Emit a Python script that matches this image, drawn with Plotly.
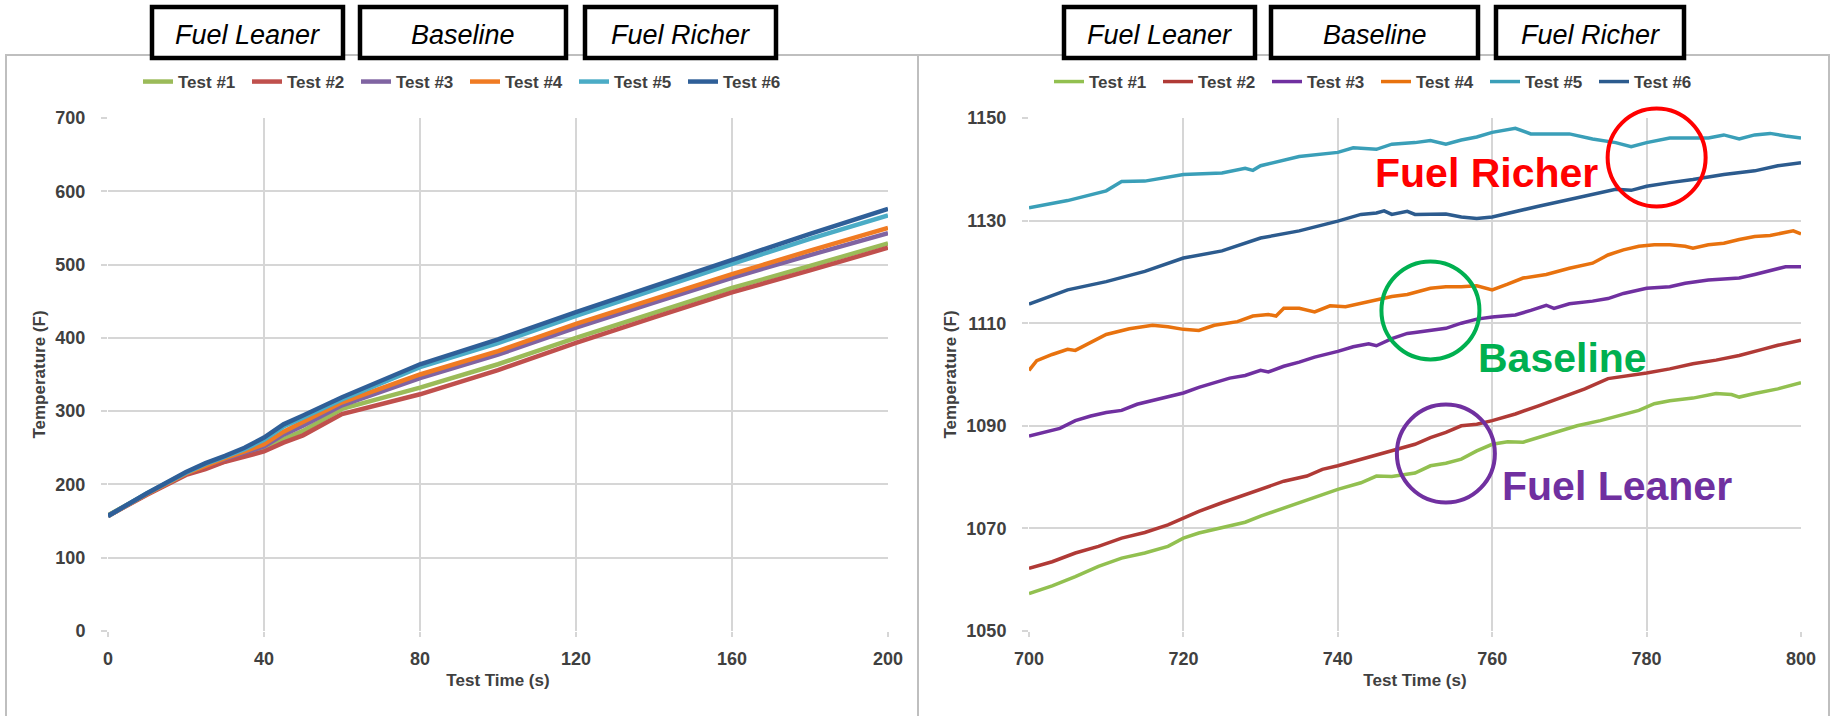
import plotly.graph_objects as go

W, H = 1835, 716

# ---------------- data: left chart (0-200 s) ----------------
t_left = [0, 10, 20, 25, 30, 35, 40, 45, 50, 60, 80, 100, 120, 140, 160, 180, 200]
left_test1 = [158, 187, 214, 223, 232, 240, 248, 262, 273, 303, 332, 364, 400, 434, 468, 498, 529]
left_test2 = [157, 186, 213, 221, 231, 238, 245, 257, 267, 296, 323, 356, 393, 428, 462, 492, 523]
left_test3 = [157, 187, 215, 226, 235, 243, 252, 268, 280, 308, 345, 377, 414, 448, 482, 513, 543]
left_test4 = [157, 187, 215, 226, 236, 245, 255, 272, 285, 312, 350, 382, 419, 453, 487, 519, 550]
left_test5 = [157, 188, 216, 228, 238, 248, 261, 279, 291, 316, 360, 393, 430, 466, 501, 535, 567]
left_test6 = [157, 188, 217, 229, 239, 250, 264, 282, 294, 319, 364, 398, 435, 471, 506, 542, 576]

# ---------------- data: right chart (700-800 s) ----------------
t_r1 = [700, 703, 706, 709, 712, 715, 718, 720, 722, 725, 728, 730, 733, 736, 738, 740, 743, 745, 747, 749, 750,
        752, 754, 756, 758, 760, 762, 764, 766, 768, 771, 774, 777, 779, 781, 783, 786, 789, 791, 792, 794, 797, 800]
v_r1 = [1057.3, 1058.8, 1060.6, 1062.6, 1064.2, 1065.2, 1066.5, 1068.1, 1069.1, 1070.1, 1071.2, 1072.4, 1074.0,
        1075.6, 1076.6, 1077.6, 1078.9, 1080.2, 1080.1, 1080.5, 1080.8, 1082.2, 1082.7, 1083.5, 1085.1, 1086.4,
        1086.9, 1086.8, 1087.7, 1088.7, 1090.0, 1091.0, 1092.3, 1093.0, 1094.3, 1094.9, 1095.4, 1096.3, 1096.1,
        1095.6, 1096.3, 1097.2, 1098.4]

t_r2 = [700, 703, 706, 709, 712, 715, 718, 720, 722, 725, 728, 730, 733, 736, 738, 740, 743, 745, 747, 750,
        752, 754, 756, 758, 760, 763, 766, 769, 772, 775, 778, 780, 783, 786, 789, 792, 795, 797, 800]
v_r2 = [1062.2, 1063.5, 1065.2, 1066.5, 1068.1, 1069.2, 1070.7, 1072.0, 1073.3, 1075.0, 1076.6, 1077.6, 1079.2,
        1080.2, 1081.5, 1082.2, 1083.5, 1084.2, 1085.1, 1086.4, 1087.7, 1088.7, 1090.0, 1090.3, 1091.0, 1092.3,
        1093.9, 1095.6, 1097.2, 1099.2, 1099.8, 1100.3, 1101.1, 1102.1, 1102.8, 1103.7, 1104.9, 1105.7, 1106.7]

t_r3 = [700, 702, 704, 706, 708, 710, 712, 714, 716, 718, 720, 722, 724, 726, 728, 730, 731, 733, 735, 737, 740,
        742, 744, 745, 747, 749, 750, 752, 754, 756, 758, 760, 763, 765, 767, 768, 770, 773, 775, 777, 780, 783,
        785, 788, 790, 792, 794, 796, 798, 800]
v_r3 = [1088.0, 1088.8, 1089.5, 1091.0, 1091.9, 1092.6, 1093.0, 1094.2, 1094.9, 1095.6, 1096.4, 1097.5, 1098.4,
        1099.3, 1099.8, 1100.8, 1100.5, 1101.6, 1102.4, 1103.4, 1104.5, 1105.4, 1106.0, 1105.6, 1107.0, 1108.0,
        1108.2, 1108.6, 1109.0, 1110.0, 1110.8, 1111.2, 1111.6, 1112.5, 1113.5, 1112.9, 1113.8, 1114.3, 1114.8,
        1115.8, 1116.8, 1117.1, 1117.8, 1118.4, 1118.6, 1118.8, 1119.5, 1120.2, 1121.0, 1121.0]

t_r4 = [700, 701, 703, 705, 706, 708, 710, 713, 716, 718, 720, 722, 724, 727, 729, 731, 732, 733, 735, 737, 739,
        741, 743, 745, 747, 749, 750, 752, 754, 756, 758, 760, 762, 764, 767, 770, 773, 775, 777, 779, 781, 783,
        785, 786, 788, 790, 792, 794, 796, 798, 799, 800]
v_r4 = [1100.8, 1102.7, 1103.9, 1104.9, 1104.7, 1106.3, 1107.8, 1108.9, 1109.6, 1109.3, 1108.8, 1108.6, 1109.6,
        1110.3, 1111.4, 1111.7, 1111.4, 1112.9, 1112.9, 1112.2, 1113.4, 1113.2, 1113.9, 1114.5, 1115.2, 1115.6,
        1116.0, 1116.8, 1117.1, 1117.1, 1117.3, 1116.5, 1117.6, 1118.8, 1119.5, 1120.7, 1121.7, 1123.3, 1124.3,
        1125.0, 1125.3, 1125.3, 1125.0, 1124.6, 1125.3, 1125.6, 1126.3, 1126.9, 1127.1, 1127.6, 1128.0, 1127.4]

t_r5 = [700, 705, 710, 712, 715, 720, 725, 728, 729, 730, 735, 740, 742, 745, 747, 750, 752, 754, 756, 758, 760,
        763, 765, 768, 770, 773, 776, 778, 780, 783, 786, 788, 790, 792, 794, 796, 798, 800]
v_r5 = [1132.5, 1133.9, 1135.8, 1137.6, 1137.7, 1139.0, 1139.3, 1140.2, 1139.8, 1140.7, 1142.5, 1143.3, 1144.2,
        1143.9, 1144.9, 1145.2, 1145.6, 1144.9, 1145.7, 1146.3, 1147.2, 1148.0, 1146.9, 1147.0, 1146.9, 1145.9,
        1145.2, 1144.4, 1145.2, 1146.1, 1146.2, 1146.1, 1146.7, 1145.9, 1146.7, 1147.0, 1146.5, 1146.1]

t_r6 = [700, 705, 710, 715, 720, 725, 730, 735, 740, 743, 745, 746, 747, 749, 750, 752, 754, 756, 758, 760, 763,
        766, 770, 773, 776, 778, 780, 783, 786, 790, 794, 797, 800]
v_r6 = [1113.7, 1116.5, 1118.1, 1120.1, 1122.7, 1124.1, 1126.6, 1128.0, 1129.9, 1131.2, 1131.5, 1131.9, 1131.2,
        1131.8, 1131.2, 1131.2, 1131.3, 1130.7, 1130.4, 1130.7, 1131.8, 1132.8, 1134.1, 1135.1, 1136.1, 1135.9,
        1136.7, 1137.4, 1138.0, 1139.0, 1139.7, 1140.7, 1141.3]

series_names = ["Test #1", "Test #2", "Test #3", "Test #4", "Test #5", "Test #6"]
box_labels = ["Fuel Leaner", "Baseline", "Fuel Richer"]
callout_labels = ["Fuel Richer", "Baseline", "Fuel Leaner"]

left_colors = ["#9BBB59", "#C0504D", "#8064A2", "#F07B23", "#4BACC6", "#2F5F98"]
right_colors = ["#92C050", "#B03A36", "#7030A0", "#E8720E", "#3A9FB8", "#2C5B8E"]

# ---------------- layout geometry (pixels) ----------------
def px(x):
    return x / W

def py(y):
    return 1 - y / H

L_X = (108, 888)
R_X = (1029, 1801)
P_Y = (118, 631)

fig = go.Figure()

left_vals = [left_test1, left_test2, left_test3, left_test4, left_test5, left_test6]
for name, vals, c in zip(series_names, left_vals, left_colors):
    fig.add_trace(go.Scatter(x=t_left, y=vals, name=name, mode="lines",
                             line=dict(color=c, width=4.5),
                             xaxis="x", yaxis="y", legend="legend"))

right_t = [t_r1, t_r2, t_r3, t_r4, t_r5, t_r6]
right_v = [v_r1, v_r2, v_r3, v_r4, v_r5, v_r6]
for name, tt, vv, c in zip(series_names, right_t, right_v, right_colors):
    fig.add_trace(go.Scatter(x=tt, y=vv, name=name, mode="lines",
                             line=dict(color=c, width=3.5),
                             xaxis="x2", yaxis="y2", legend="legend2"))

FONT = "Liberation Sans, Arial, sans-serif"
tick_font = dict(family=FONT, size=18, color="#404040", weight="bold")
title_font = dict(family=FONT, size=17, color="#404040", weight="bold")
GRID = "#D6D6D6"

def xaxis_common(rng, dtick):
    return dict(range=rng, dtick=dtick, tick0=rng[0], showgrid=True, gridcolor=GRID, gridwidth=2,
                zeroline=False, showline=False, ticks="outside", ticklen=5, tickcolor=GRID,
                tickwidth=2, tickfont=tick_font, ticklabelstandoff=6, fixedrange=True,
                title=dict(text="Test Time (s)", font=title_font, standoff=6), automargin=True)

def yaxis_common(rng, dtick):
    return dict(range=rng, dtick=dtick, tick0=rng[0], showgrid=True, gridcolor=GRID, gridwidth=2,
                zeroline=False, showline=False, ticks="outside", ticklen=6, tickcolor=GRID,
                tickwidth=2, tickfont=tick_font, ticklabelstandoff=12, fixedrange=True,
                title=dict(text="Temperature (F)", font=title_font, standoff=5), automargin=True)

xa1 = xaxis_common([0, 200], 40)
xa1.update(domain=[px(L_X[0]), px(L_X[1])], anchor="y")
ya1 = yaxis_common([0, 700], 100)
ya1.update(domain=[py(P_Y[1]), py(P_Y[0])], anchor="x")
xa2 = xaxis_common([700, 800], 20)
xa2.update(domain=[px(R_X[0]), px(R_X[1])], anchor="y2")
ya2 = yaxis_common([1050, 1150], 20)
ya2.update(domain=[py(P_Y[1]), py(P_Y[0])], anchor="x2")

legend_common = dict(orientation="h", xanchor="center", yanchor="middle", y=py(82),
                     font=dict(family=FONT, size=17, color="#404040", weight="bold"),
                     bgcolor="rgba(0,0,0,0)", borderwidth=0, itemwidth=30,
                     entrywidth=64, entrywidthmode="pixels", tracegroupgap=0)

fig.update_layout(
    width=W, height=H, margin=dict(l=0, r=0, t=0, b=0, autoexpand=False),
    paper_bgcolor="white", plot_bgcolor="white",
    xaxis=xa1, yaxis=ya1, xaxis2=xa2, yaxis2=ya2,
    legend=dict(legend_common, x=px(465)),
    legend2=dict(legend_common, x=px(1376)),
    showlegend=True,
)

shapes = []
# panel borders
for x0, x1 in [(6, 918), (918, 1829)]:
    shapes.append(dict(type="rect", xref="paper", yref="paper", x0=px(x0), x1=px(x1), y0=-0.05, y1=py(55),
                       line=dict(color="#BFBFBF", width=2), fillcolor="rgba(0,0,0,0)", layer="below"))

# header boxes
box_px = [[(152, 343), (360, 566), (585, 776)], [(1064, 1255), (1271, 1478), (1496, 1684)]]
annotations = []
for boxes in box_px:
    for (x0, x1), lab in zip(boxes, box_labels):
        shapes.append(dict(type="rect", xref="paper", yref="paper", x0=px(x0), x1=px(x1), y0=py(58), y1=py(7),
                           line=dict(color="black", width=4.5), fillcolor="white", layer="above"))
        annotations.append(dict(xref="paper", yref="paper", x=px((x0 + x1) / 2), y=py(35),
                                text="<i>%s</i>" % lab, showarrow=False, xanchor="center", yanchor="middle",
                                font=dict(family=FONT, size=27, color="black")))

# callout circles and labels on right chart (positions in right-chart data units)
def rx(v):
    return px(R_X[0] + (v - 700) / 100 * (R_X[1] - R_X[0]))

def ry(v):
    return py(P_Y[1] - (v - 1050) / 100 * (P_Y[1] - P_Y[0]))

circle_centers = [(781.3, 1142.3), (752.0, 1112.5), (754.0, 1084.6)]
callout_pos = [(759.2, 1139.3), (769.1, 1103.2), (776.2, 1078.3)]
callout_colors = ["#FF0000", "#00B050", "#7030A0"]
RADIUS_PX = 49
for (cx, cy), col in zip(circle_centers, callout_colors):
    cxp = rx(cx) * W
    cyp = (1 - ry(cy)) * H
    shapes.append(dict(type="circle", xref="paper", yref="paper",
                       x0=px(cxp - RADIUS_PX), x1=px(cxp + RADIUS_PX),
                       y0=py(cyp + RADIUS_PX), y1=py(cyp - RADIUS_PX),
                       line=dict(color=col, width=4), layer="above"))
for (lx, ly), lab, col in zip(callout_pos, callout_labels, callout_colors):
    annotations.append(dict(xref="paper", yref="paper", x=rx(lx), y=ry(ly), text="<b>%s</b>" % lab,
                            showarrow=False, xanchor="center", yanchor="middle",
                            font=dict(family=FONT, size=41, color=col)))

fig.update_layout(shapes=shapes, annotations=annotations)

fig.write_html("out.html", config={"displayModeBar": False, "staticPlot": False},
               post_script="document.body.style.margin='0px';document.body.style.overflow='hidden';")
